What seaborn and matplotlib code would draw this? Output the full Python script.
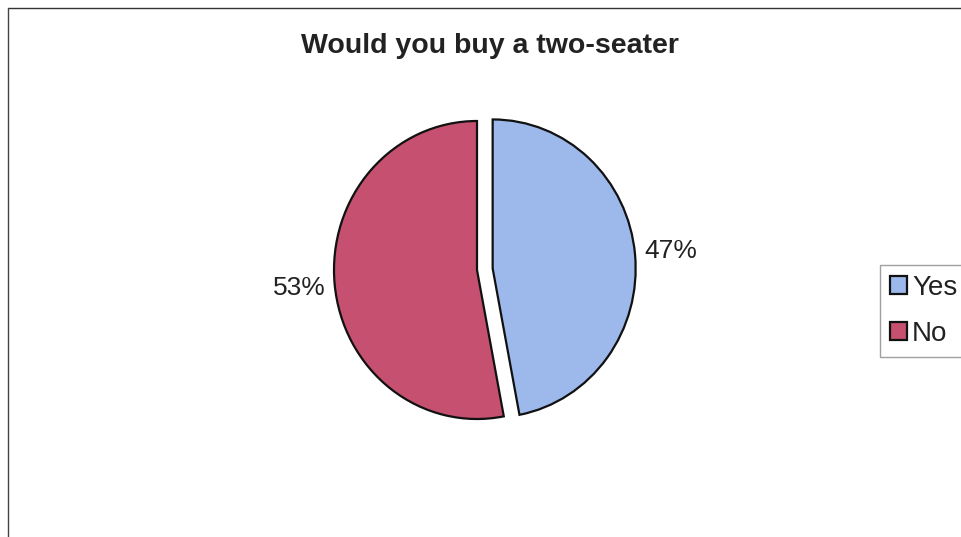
import matplotlib
matplotlib.use("Agg")
import matplotlib.pyplot as plt
import seaborn as sns

# Survey answers
answers = ["Yes", "No"]
shares = [47, 53]
slice_colors = ["#9DB8EA", "#C5506F"]
explode = [0.11, 0.0]

sns.set_theme(style="white")
plt.rcParams["font.family"] = ["Liberation Sans", "DejaVu Sans"]

W, H = 962, 537
fig = plt.figure(figsize=(W / 100, H / 100), dpi=100)
fig.patch.set_facecolor("white")

# axes placed so that the unit circle maps to an 143 x 149 px ellipse
cx, cy = 477, 270
rx, ry = 143, 149
half = 1.25
ax = fig.add_axes([(cx - half * rx) / W, (H - cy - half * ry) / H,
                   2 * half * rx / W, 2 * half * ry / H])

wedges, texts, autotexts = ax.pie(
    shares,
    colors=slice_colors,
    explode=explode,
    startangle=90,
    counterclock=False,
    autopct=lambda p: f"{p:.0f}%",
    pctdistance=1.25,
    wedgeprops=dict(edgecolor="#111111", linewidth=1.6),
    textprops=dict(fontsize=19, color="#222222"),
)
ax.set_xlim(-half, half)
ax.set_ylim(-half, half)
ax.set_aspect("auto")
ax.axis("off")

fig.text(490 / W, 1 - 46 / H, "Would you buy a two-seater", ha="center",
         va="center", fontsize=20.5, fontweight="bold", color="#222222")

leg = fig.legend(
    wedges, answers,
    loc="upper left",
    bbox_to_anchor=(880 / W, 1 - 265 / H),
    borderaxespad=0.0,
    frameon=True, fancybox=False,
    fontsize=20,
    handlelength=0.6, handleheight=0.6, handletextpad=0.2,
    labelspacing=0.72, borderpad=0.36,
)
leg.get_frame().set_edgecolor("#888888")
leg.get_frame().set_linewidth(1.0)
for t in leg.get_texts():
    t.set_color("#222222")

# chart area border along the top and left
fig.add_artist(plt.Line2D([8 / W, 1], [1 - 8 / H, 1 - 8 / H],
                          transform=fig.transFigure, color="#333333", lw=1.0))
fig.add_artist(plt.Line2D([8 / W, 8 / W], [1 - 8 / H, 0],
                          transform=fig.transFigure, color="#444444", lw=1.0))

fig.savefig("out.png", dpi=100, facecolor="white")
